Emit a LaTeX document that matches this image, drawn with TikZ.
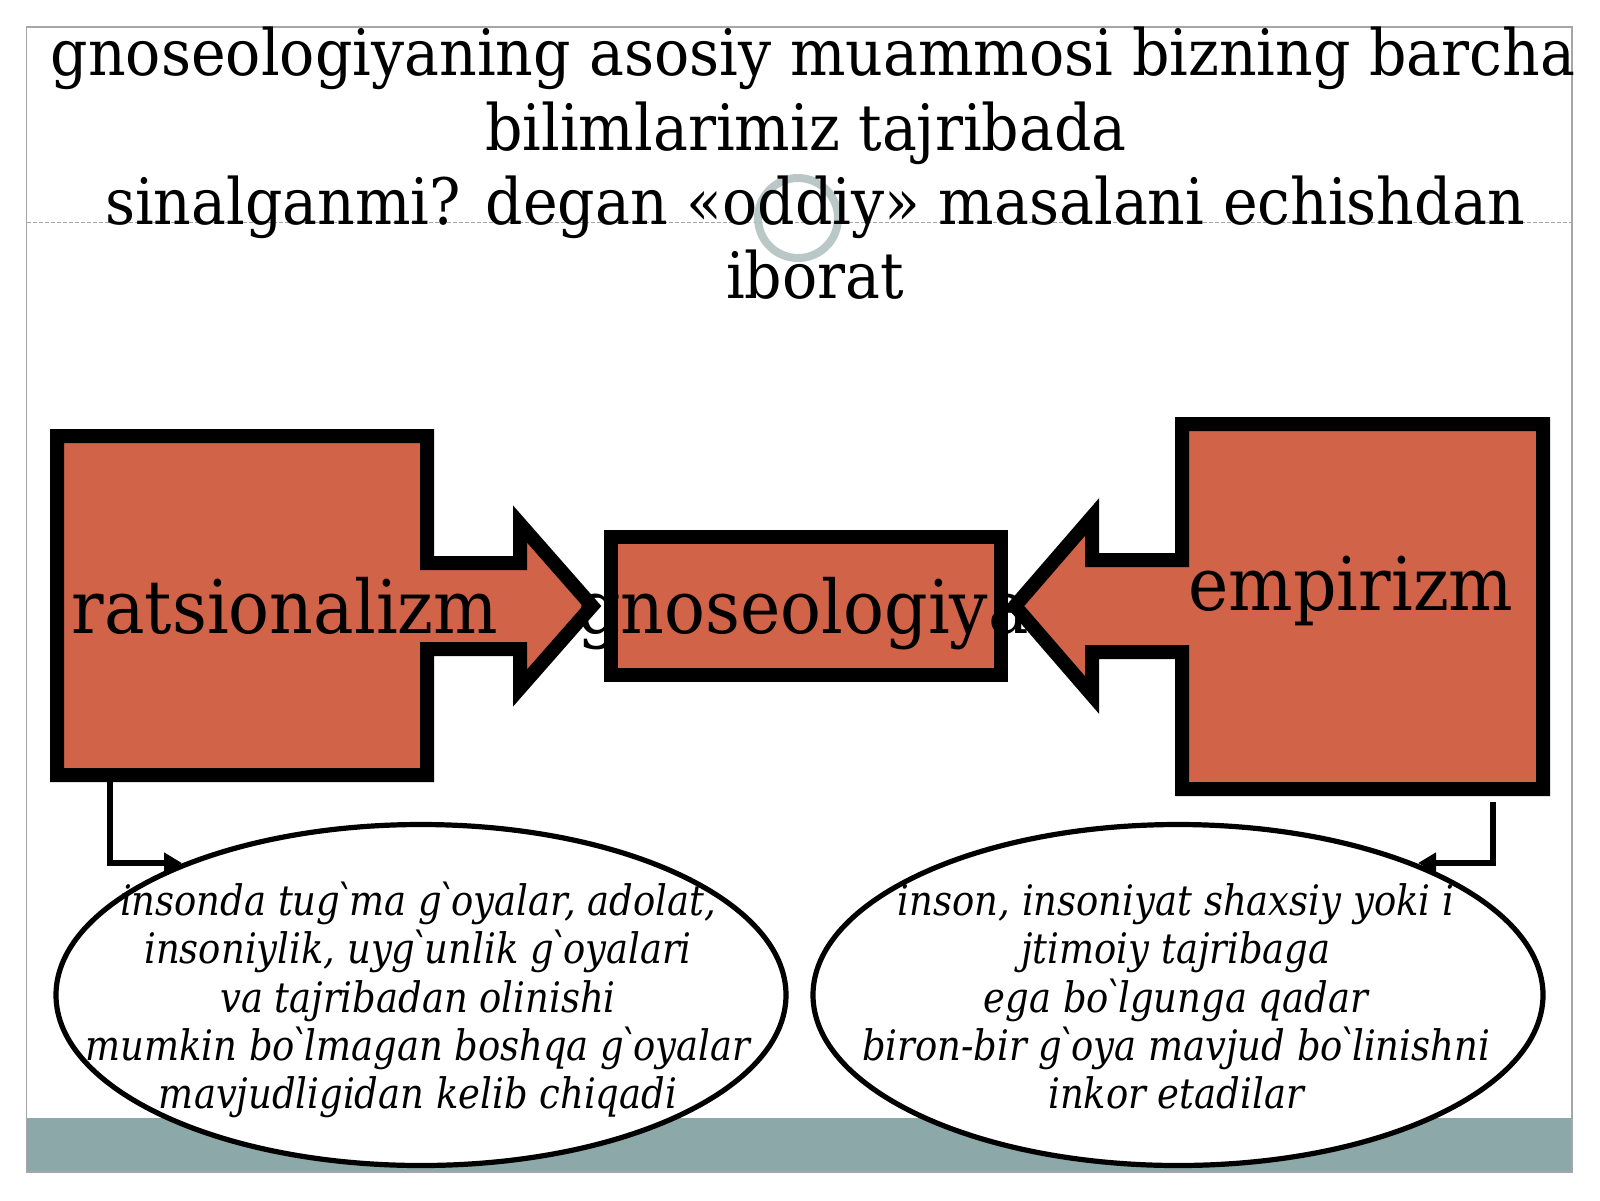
\documentclass[tikz,border=0pt]{standalone}
\usepackage{fontspec}
\setmainfont{DejaVu Serif}[FakeStretch=0.88]
\newfontfamily\ttlfont{DejaVu Serif}[FakeStretch=0.915]
\newfontfamily\lblfont{DejaVu Serif}[FakeStretch=0.92]
\usetikzlibrary{shapes.geometric,arrows.meta}
\definecolor{boxfill}{HTML}{D16349}
\definecolor{bandcol}{HTML}{8DA8A9}
\definecolor{framecol}{HTML}{A6A6A6}
\newcommand{\grv}{\kern-0.14em\textasciigrave\kern-0.14em}
\begin{document}
\begin{tikzpicture}[x=0.5pt,y=-0.5pt,
  calloutbox/.style={draw=black,line width=7pt,fill=boxfill,miter limit=10},
  lbl/.style={font=\lblfont\fontsize{37}{44}\selectfont,anchor=base,inner sep=0pt},
  ttl/.style={font=\ttlfont\fontsize{32}{38}\selectfont,anchor=base,inner sep=0pt},
  etxt/.style={font=\fontsize{21}{24}\selectfont\itshape,anchor=base,inner sep=0pt},
  ell/.style={draw=black,line width=2.6pt,fill=white,ellipse,minimum width=365pt,minimum height=170.5pt,inner sep=0pt},
  conn/.style={draw=black,line width=2.6pt,-{Triangle[length=9pt,width=10pt]}}]
\useasboundingbox (0,0) rectangle (1600,1200);
\fill[white] (0,0) rectangle (1600,1200);
% slide frame, band, dashed guide
\fill[bandcol] (27,1118) rectangle (1572,1172);
\draw[framecol,line width=0.75pt] (26.5,27) rectangle (1572,1172);
\draw[framecol,line width=0.5pt,dash pattern=on 2pt off 1pt] (27,222) -- (1572,222);
% spinner
\draw[white,line width=9pt,opacity=0.6] (798,218) circle[radius=40];
\draw[bandcol!85!gray,line width=4pt,opacity=0.6] (798,218) circle[radius=40];
\node[text=gray,font=\fontsize{6}{7}\selectfont,inner sep=0pt] (num) at (802,208) {1};
% title
\node[ttl] (t1) at (813,75) {gnoseologiyaning asosiy muammosi bizning barcha};
\node[ttl] (t2) at (806,150) {bilimlarimiz tajribada};
\node[ttl] (t3) at (815,224) {sinalganmi? degan «oddiy» masalani echishdan};
\node[ttl] (t4) at (815,298) {iborat};
% middle box
\node[draw=black,line width=7pt,fill=boxfill,minimum width=195pt,minimum height=69pt,inner sep=0pt] (gno) at (806,606) {};
% left callout
\draw[calloutbox] (57,436) -- (427,436) -- (427,563) -- (520,563) -- (520,524) -- (592,606)
  -- (520,688) -- (520,649) -- (427,649) -- (427,775) -- (57,775) -- cycle;
% right callout
\draw[calloutbox] (1543,424) -- (1182,424) -- (1182,560) -- (1092,560) -- (1092,517) -- (1015,606)
  -- (1092,695) -- (1092,652) -- (1182,652) -- (1182,789) -- (1543,789) -- cycle;
% labels
\node[lbl] (rat) at (285,633) {ratsionalizm};
\node[lbl] (gnot) at (803,633) {gnoseologiya};
\node[lbl] (emp) at (1351,610) {empirizm};
% ellipses
\node[ell] (le) at (421,995) {};
\node[ell] (re) at (1178,995) {};
% connectors
\coordinate (ls) at (110,782);
\coordinate (lt) at (182,863);
\coordinate (rs) at (1493,802);
\coordinate (rt) at (1418,863);
\draw[conn] (ls) |- (lt);
\draw[conn] (rs) |- (rt);
% ellipse texts
\node[etxt] (l1) at (418,915) {insonda tug\grv ma g\grv oyalar, adolat,};
\node[etxt] (l2) at (418,963) {insoniylik, uyg\grv unlik g\grv oyalari};
\node[etxt] (l3) at (418,1012) {va tajribadan olinishi};
\node[etxt] (l4) at (418,1060) {mumkin bo\grv lmagan boshqa g\grv oyalar};
\node[etxt] (l5) at (418,1108) {mavjudligidan kelib chiqadi};
\node[etxt] (r1) at (1176,915) {inson, insoniyat shaxsiy yoki i};
\node[etxt] (r2) at (1176,963) {jtimoiy tajribaga};
\node[etxt] (r3) at (1176,1012) {ega bo\grv lgunga qadar};
\node[etxt] (r4) at (1176,1060) {biron-bir g\grv oya mavjud bo\grv linishni};
\node[etxt] (r5) at (1176,1108) {inkor etadilar};
\end{tikzpicture}
\end{document}
